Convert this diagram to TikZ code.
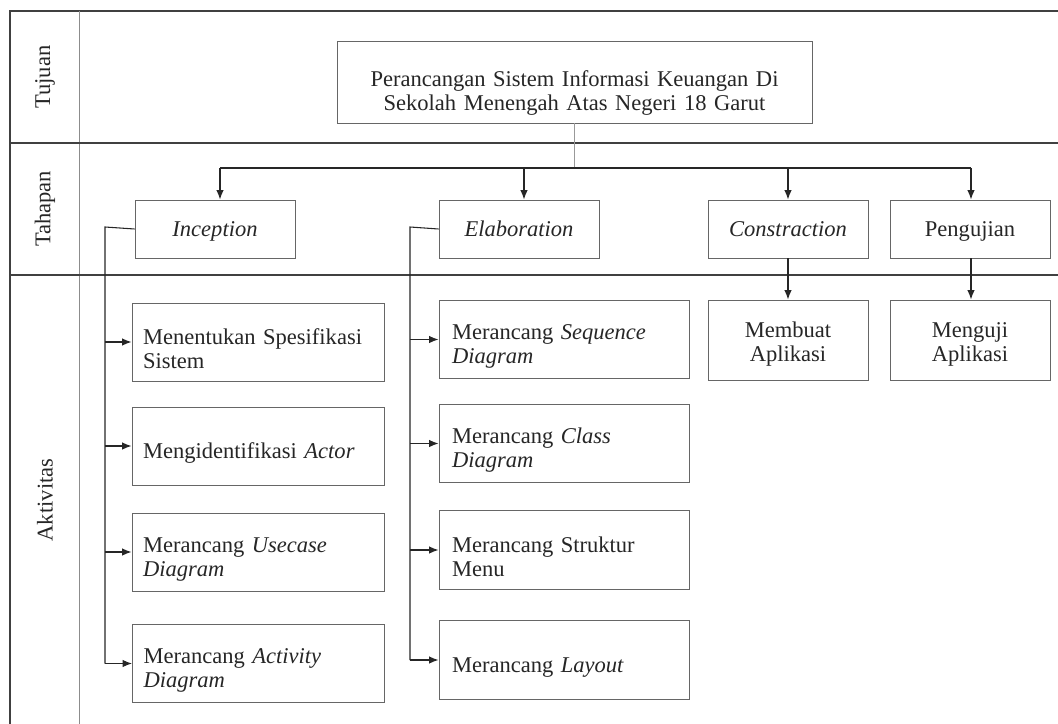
\documentclass[tikz,border=0pt]{standalone}
\usepackage{fontspec}
\setmainfont{Liberation Serif}
\usetikzlibrary{arrows.meta}
\begin{document}
\begin{tikzpicture}[x=0.75pt,y=-0.75pt,
  every node/.style={font=\fontsize{16.9pt}{18pt}\selectfont, text=black!85},
  frame/.style={draw=black!75, line width=0.8pt},
  colline/.style={draw=black!45, line width=0.7pt},
  tshift/.style={execute at begin node={\rule{0pt}{#1}}},
  box/.style={draw=black!60, line width=0.7pt, rectangle, inner sep=0pt, fill=white},
  stagebox/.style={box, minimum width=120pt, minimum height=43.5pt, text height=13pt, text depth=2pt},
  actA/.style={box, align=left, inner xsep=8.25pt, text width=172.5pt, minimum height=58.5pt, tshift=22pt},
  actB/.style={box, align=left, inner xsep=9.75pt, text width=168pt, minimum height=59pt, tshift=22pt},
  actC/.style={box, align=center, text width=120pt, minimum height=60pt, tshift=18.5pt},
  rowlabel/.style={rotate=90},
  conn/.style={draw=black!85, line width=0.8pt},
  bus/.style={draw=black!85, line width=1.2pt},
  stem/.style={draw=black!40, line width=0.75pt},
  arr/.style={conn, -{Latex[length=7pt,width=5.5pt]}},
]
\useasboundingbox (0,0) rectangle (1058,724);
% frame
\draw[frame] (1058,11) -- (10,11) -- (10,724);
\draw[colline] (79,11) -- (79,724);
\draw[frame] (10,143) -- (1058,143);
\draw[frame] (10,275) -- (1058,275);

% row labels
\node[rowlabel] (ltujuan) at (45,77) {Tujuan};
\node[rowlabel] (ltahapan) at (45,209) {Tahapan};
\node[rowlabel] (laktivitas) at (45,500) {Aktivitas};

% title
\node[box, align=center, text width=356.25pt, minimum height=61.5pt, tshift=29pt] (title) at (574.5,82)
  {Perancangan Sistem Informasi Keuangan Di\\Sekolah Menengah Atas Negeri 18 Garut};

% stages
\node[stagebox] (inc) at (215,229) {\itshape Inception};
\node[stagebox] (ela) at (519,229) {\itshape Elaboration};
\node[stagebox] (con) at (788,229) {\itshape Constraction};
\node[stagebox] (pen) at (970,229) {Pengujian};

% activities col 1
\node[actA] (a1) at (258,342) {Menentukan Spesifikasi\\Sistem};
\node[actA, tshift=15pt] (a2) at (258,446) {Mengidentifikasi \textit{Actor}};
\node[actA] (a3) at (258,552) {Merancang \textit{Usecase}\\\textit{Diagram}};
\node[actA] (a4) at (258.5,663.5) {Merancang \textit{Activity}\\\textit{Diagram}};
% col 2
\node[actB] (b1) at (564,339.5) {Merancang \textit{Sequence}\\\textit{Diagram}};
\node[actB] (b2) at (564,443.5) {Merancang \textit{Class}\\\textit{Diagram}};
\node[actB] (b3) at (564,550) {Merancang Struktur\\Menu};
\node[actB, tshift=15pt] (b4) at (564,660) {Merancang \textit{Layout}};
% col 3,4
\node[actC] (c1) at (788,340) {Membuat\\Aplikasi};
\node[actC] (c2) at (970,340) {Menguji\\Aplikasi};

% bus
\coordinate (junc) at (574.5,168);
\coordinate (bl) at (220,168);
\coordinate (be) at (524,168);
\coordinate (bc) at (788,168);
\coordinate (br) at (971,168);
\draw[stem] (title.south) -- (junc);
\draw[bus] (bl) -- (br);
\draw[arr] (bl) -- (bl |- inc.north);
\draw[arr] (be) -- (be |- ela.north);
\draw[arr] (bc) -- (bc |- con.north);
\draw[arr] (br) -- (br |- pen.north);

% spine inception
\coordinate (s1) at (105,227);
\draw[conn] (inc.west) -- (s1) -- (s1 |- a4.west);
\draw[arr] (s1 |- a1.west) -- (a1.west);
\draw[arr] (s1 |- a2.west) -- (a2.west);
\draw[arr] (s1 |- a3.west) -- (a3.west);
\draw[arr] (s1 |- a4.west) -- (a4.west);

% spine elaboration
\coordinate (s2) at (410,227);
\draw[conn] (ela.west) -- (s2) -- (s2 |- b4.west);
\draw[arr] (s2 |- b1.west) -- (b1.west);
\draw[arr] (s2 |- b2.west) -- (b2.west);
\draw[arr] (s2 |- b3.west) -- (b3.west);
\draw[arr] (s2 |- b4.west) -- (b4.west);

% constraction / pengujian
\draw[arr] (con.south) -- (c1.north);
\draw[arr] (pen.south -| br) -- (c2.north -| br);
\end{tikzpicture}
\end{document}
